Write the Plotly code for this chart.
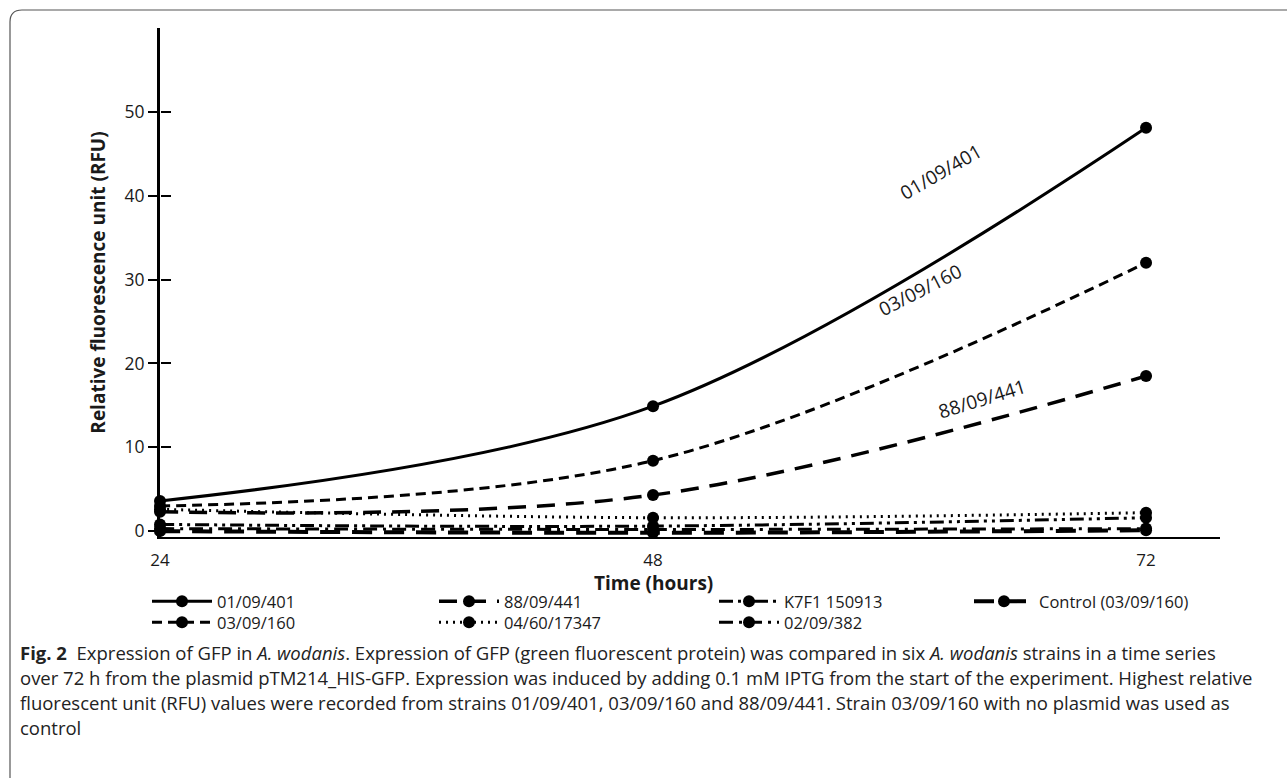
import plotly.graph_objects as go

# ---- data ----
hours = [24, 48, 72]
strain_names = ["01/09/401", "03/09/160", "88/09/441", "04/60/17347",
                "K7F1 150913", "02/09/382", "Control (03/09/160)"]
rfu_01_09_401 = [3.6, 14.9, 48.1]
rfu_03_09_160 = [3.0, 8.4, 32.0]
rfu_88_09_441 = [2.3, 4.3, 18.5]
rfu_04_60_17347 = [2.6, 1.6, 2.2]
rfu_k7f1 = [0.8, 0.6, 1.6]
rfu_02_09_382 = [0.3, 0.2, 0.3]
rfu_control = [0.0, -0.2, 0.1]
y_ticks = [0, 10, 20, 30, 40, 50]
x_ticks = [24, 48, 72]

series = [rfu_01_09_401, rfu_03_09_160, rfu_88_09_441, rfu_04_60_17347,
          rfu_k7f1, rfu_02_09_382, rfu_control]
dashes = ["solid", "10px,6px", "18px,11px", "2px,5px",
          "14px,5px,3px,5px,3px,5px", "14px,6px,3px,6px", "20px,12px"]
widths = [3, 3, 3.5, 3, 3, 3, 4]
# legend column (pixel x of entry) and row (pixel y of entry top)
legend_cols = [147, 147, 434, 434, 714, 714, 969]
legend_rows = [584, 605, 584, 605, 584, 605, 584]

FONT = "Open Sans"
L, R, T, B = 160, 67, 28, 241
W, H = 1287, 778
PW, PH = W - L - R, H - T - B

def px2x(px):
    return (px - L) / PW

def py2y(py):
    return (H - B - py) / PH

fig = go.Figure()
legend_layout = {}
for i, (name, vals, d, w) in enumerate(zip(strain_names, series, dashes, widths)):
    lg = "legend" if i == 0 else f"legend{i + 1}"
    fig.add_trace(go.Scatter(
        x=hours, y=vals, name=name, mode="lines+markers", legend=lg,
        line=dict(color="black", width=w, dash=d, shape="spline"),
        marker=dict(color="black", size=12, symbol="circle"),
        cliponaxis=False,
    ))
    legend_layout[lg] = dict(x=px2x(legend_cols[i]), y=py2y(legend_rows[i]),
                             orientation="v", xanchor="left", yanchor="top",
                             font=dict(size=16.5, color="#1a1a1a"), itemwidth=60,
                             bgcolor="rgba(0,0,0,0)")

# invisible helper trace so the second y axis (right-pointing ticks) is drawn
fig.add_trace(go.Scatter(x=[24], y=[0], yaxis="y2", mode="markers",
                         marker=dict(opacity=0), showlegend=False, hoverinfo="skip"))

fig.update_layout(
    width=W, height=H,
    margin=dict(l=L, r=R, t=T, b=B),
    paper_bgcolor="white", plot_bgcolor="white",
    font=dict(family=FONT, color="#1a1a1a", size=17),
    xaxis=dict(range=[24, 75.6], tickvals=x_ticks, showgrid=False, zeroline=False,
               showline=True, linecolor="black", linewidth=2, ticks="",
               tickfont=dict(size=17), ticklabelstandoff=7),
    yaxis=dict(range=[-0.7, 60], tickvals=y_ticks, showgrid=False, zeroline=False,
               showline=True, linecolor="black", linewidth=3, ticks="outside",
               ticklen=9, tickwidth=2, tickcolor="black", tickfont=dict(size=17.5),
               title=dict(text="<b>Relative fluorescence unit (RFU)</b>",
                          font=dict(size=19), standoff=14)),
    yaxis2=dict(range=[-0.7, 60], tickvals=y_ticks, overlaying="y", side="right",
                anchor="free", position=0, showgrid=False, zeroline=False,
                showline=False, ticks="outside", ticklen=10, tickwidth=2,
                tickcolor="black", showticklabels=False),
    showlegend=True,
    **legend_layout,
)

# x-axis title centred under the 48 h tick
fig.add_annotation(x=48, y=py2y(583), yref="paper", text="<b>Time (hours)</b>",
                   showarrow=False, yanchor="middle", font=dict(size=19, color="#1a1a1a"))

# curve labels
labels = [("01/09/401", 62.0, 42.8, -30),
          ("03/09/160", 61.0, 28.8, -27),
          ("88/09/441", 64.0, 15.8, -17)]
for txt, x, y, ang in labels:
    fig.add_annotation(x=x, y=y, text=txt, showarrow=False, textangle=ang,
                       font=dict(size=19, color="#1a1a1a"))

# caption
caption = [
    "<b>Fig. 2</b>  Expression of GFP in <i>A. wodanis</i>. Expression of GFP (green fluorescent protein) was compared in six <i>A. wodanis</i> strains in a time series",
    "over 72 h from the plasmid pTM214_HIS-GFP. Expression was induced by adding 0.1 mM IPTG from the start of the experiment. Highest relative",
    "fluorescent unit (RFU) values were recorded from strains 01/09/401, 03/09/160 and 88/09/441. Strain 03/09/160 with no plasmid was used as",
    "control",
]
for i, line in enumerate(caption):
    fig.add_annotation(xref="paper", yref="paper", x=px2x(18), y=py2y(652 + 25.3 * i),
                       xanchor="left", yanchor="middle", text=line, showarrow=False,
                       align="left", font=dict(size=18.5, color="#222"))

# frame with rounded top-left corner
x0, x1, x2 = px2x(10), px2x(22), px2x(1295)
y0, y1, y2 = py2y(10), py2y(22), py2y(800)
fig.add_shape(type="path", xref="paper", yref="paper",
              path=f"M {x0},{y2} L {x0},{y1} Q {x0},{y0} {x1},{y0} L {x2},{y0}",
              line=dict(color="#555", width=1.2))

fig.write_html("out.html")
